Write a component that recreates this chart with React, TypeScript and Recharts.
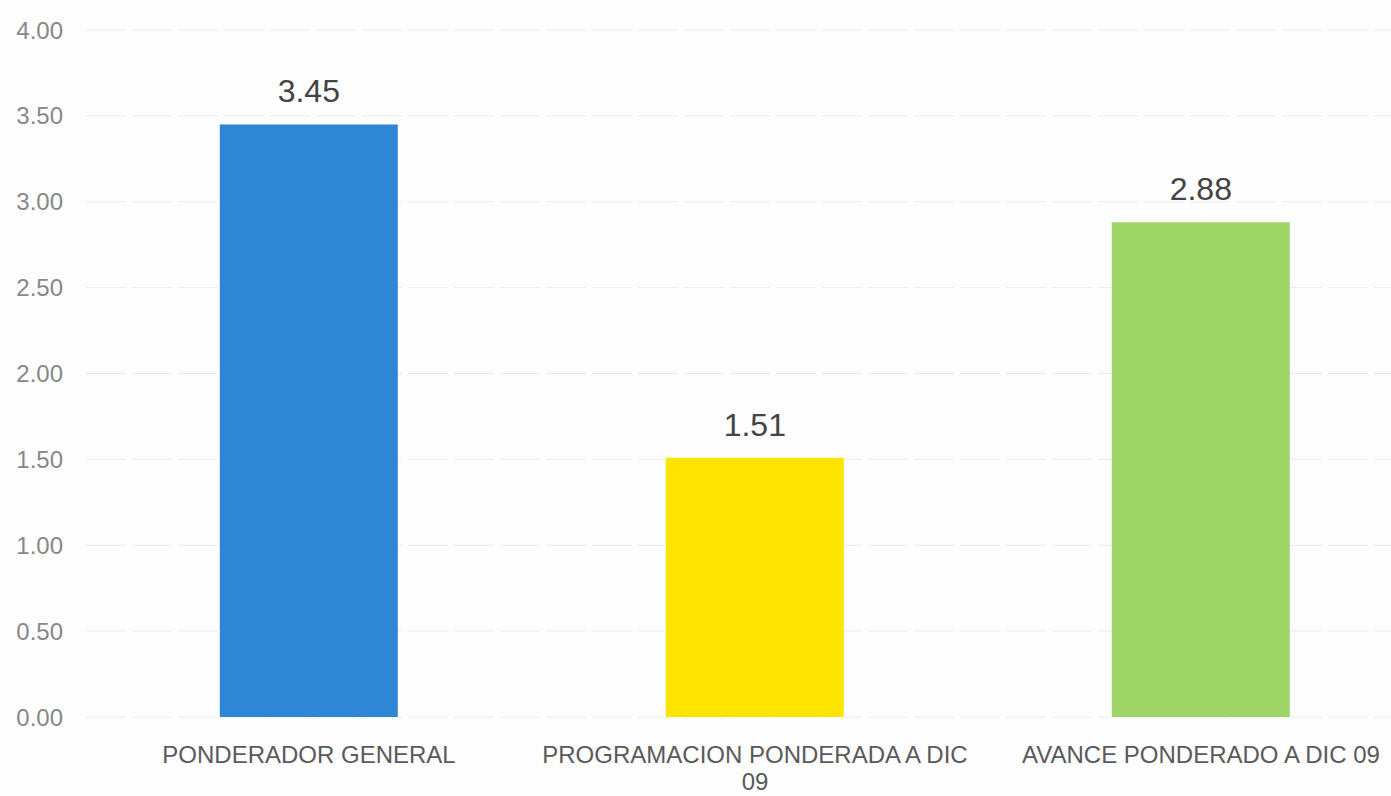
import { BarChart, Bar, XAxis, YAxis, CartesianGrid, Cell, LabelList } from "recharts";

const categories = [
  "PONDERADOR GENERAL",
  "PROGRAMACION PONDERADA A DIC 09",
  "AVANCE PONDERADO A DIC 09",
];
const values = [3.45, 1.51, 2.88];
const yTicks = [0, 0.5, 1, 1.5, 2, 2.5, 3, 3.5, 4];
const colors = ["#2e86d6", "#ffe400", "#9fd466"];

const data = categories.map((name, i) => ({ name, value: values[i] }));

const FONT = "Liberation Sans, Arial, sans-serif";

let ctx: CanvasRenderingContext2D | null = null;
function measure(s: string) {
  if (!ctx) {
    ctx = document.createElement("canvas").getContext("2d");
    if (ctx) ctx.font = `24px ${FONT}`;
  }
  return ctx ? ctx.measureText(s).width : s.length * 13;
}

// split a label into lines that fit in maxWidth
function wrap(label: string, maxWidth: number) {
  const lines: string[] = [];
  let cur = "";
  for (const w of label.split(" ")) {
    const next = cur ? cur + " " + w : w;
    if (cur && measure(next) > maxWidth) {
      lines.push(cur);
      cur = w;
    } else {
      cur = next;
    }
  }
  if (cur) lines.push(cur);
  return lines;
}

const CategoryTick = (props: any) => {
  const { x, y, payload } = props;
  const lines = wrap(String(payload.value), 438);
  return (
    <text x={x} y={y + 38} textAnchor="middle" fill="#5a5a5a" fontSize={24} fontFamily={FONT}>
      {lines.map((l, i) => (
        <tspan key={i} x={x} dy={i === 0 ? 0 : 27}>
          {l}
        </tspan>
      ))}
    </text>
  );
};

export default function App() {
  return (
    <div style={{ position: "absolute", left: 0, top: 0, width: 1391, height: 796, overflow: "hidden", background: "#fdfdfd" }}>
      <BarChart
        width={1424}
        height={796}
        data={data}
        margin={{ top: 30, right: 0, bottom: 0, left: 0 }}
        barCategoryGap="30%"
      >
        <CartesianGrid vertical={false} stroke="#ececec" strokeDasharray="40 6" />
        <XAxis
          dataKey="name"
          axisLine={false}
          tickLine={false}
          interval={0}
          height={79}
          tick={<CategoryTick />}
        />
        <YAxis
          domain={[0, 4]}
          ticks={yTicks}
          width={86}
          axisLine={false}
          tickLine={false}
          tickSize={0}
          tickMargin={23}
          tickFormatter={(v: number) => v.toFixed(2)}
          tick={{ fontSize: 24, fill: "#888888", fontFamily: FONT }}
        />
        <Bar dataKey="value" isAnimationActive={false}>
          {data.map((d, i) => (
            <Cell key={d.name} fill={colors[i]} />
          ))}
          <LabelList
            dataKey="value"
            position="top"
            offset={22}
            formatter={(v: any) => Number(v).toFixed(2)}
            style={{ fontSize: 32, fill: "#444444", fontFamily: FONT }}
          />
        </Bar>
      </BarChart>
    </div>
  );
}
